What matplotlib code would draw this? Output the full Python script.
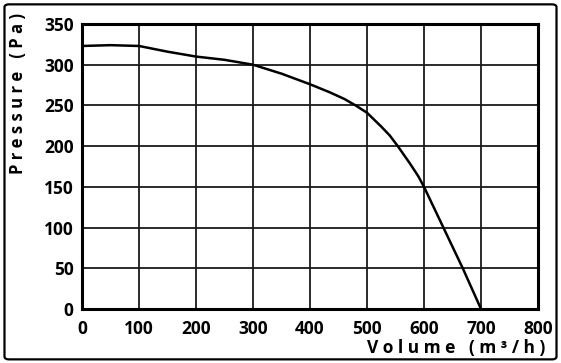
import matplotlib.pyplot as plt
from matplotlib.patches import FancyBboxPatch

# fan curve
volume = [0, 50, 100, 150, 200, 250, 300, 350, 400, 435, 460, 480, 500,
          525, 540, 554, 575, 590, 600, 634, 668, 700]
pressure = [323, 324, 323, 316, 310, 306, 300, 289, 276, 266, 258, 250, 241,
            224, 213, 200, 179, 163, 150, 100, 50, 0]

x_ticks = [0, 100, 200, 300, 400, 500, 600, 700, 800]
y_ticks = [0, 50, 100, 150, 200, 250, 300, 350]

plt.rcParams['font.family'] = ['Open Sans', 'DejaVu Sans']
plt.rcParams['font.weight'] = 'bold'

fig = plt.figure(figsize=(5.61, 3.63), dpi=100)

# rounded frame around the whole chart
frame = FancyBboxPatch((0.008, 0.01), 0.984, 0.978,
                       boxstyle="round,pad=0,rounding_size=0.008",
                       transform=fig.transFigure, fill=False,
                       edgecolor="black", linewidth=1.6)
fig.patches.append(frame)

ax = fig.add_axes([0.1462, 0.1488, 0.8128, 0.7851])
ax.plot(volume, pressure, color="black", linewidth=1.8, zorder=3,
        solid_joinstyle="round")

ax.set_xlim(0, 800)
ax.set_ylim(0, 350)
ax.set_xticks(x_ticks)
ax.set_yticks(y_ticks)
ax.grid(True, color="#1a1a1a", linewidth=1.3)
ax.tick_params(length=0, labelsize=12.5)
ax.tick_params(axis="x", pad=8)
ax.tick_params(axis="y", pad=6)
for s in ax.spines.values():
    s.set_linewidth(2.2)

fig.text(0.032, 1 - 93 / 363, "P r e s s u r e   ( P a )", rotation=90,
         ha="center", va="center", fontsize=12, fontweight="bold")
fig.text(545 / 561, 1 - 348 / 363, "V o l u m e   ( m ³ / h )",
         ha="right", va="center", fontsize=12.5, fontweight="bold")

fig.savefig("out.png", dpi=100)
